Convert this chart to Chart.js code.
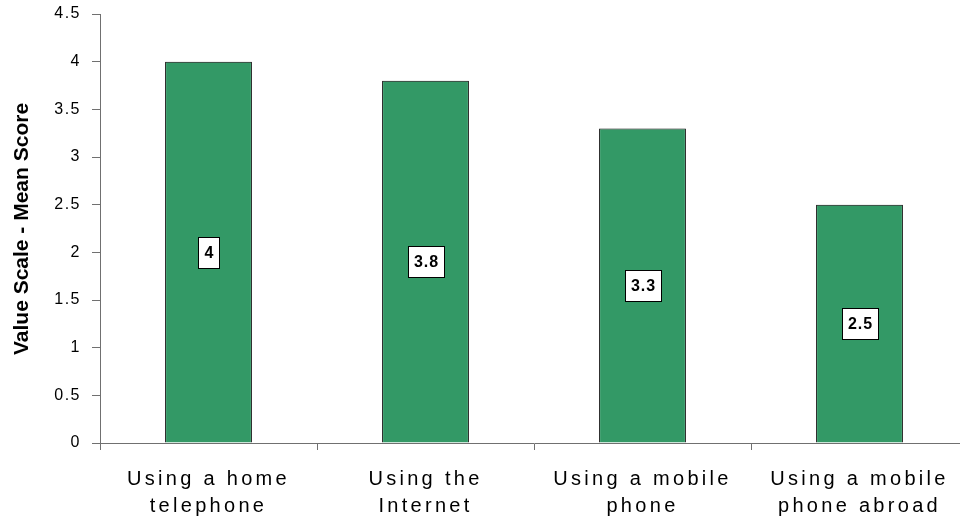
<!DOCTYPE html>
<html>
<head>
<meta charset="utf-8">
<script src="https://cdn.jsdelivr.net/npm/chart.js@4.4.1/dist/chart.umd.min.js"></script>
<style>
html,body{margin:0;padding:0;background:#fff;overflow:hidden;}
#wrap{position:absolute;left:0;top:0;width:968px;height:524px;}
</style>
</head>
<body>
<div id="wrap"><canvas id="c"></canvas></div>
<script>
const categories = [
  ["Using a home", "telephone"],
  ["Using the", "Internet"],
  ["Using a mobile", "phone"],
  ["Using a mobile", "phone abroad"]
];
const meanScores = [4, 3.8, 3.3, 2.5];
const yTitle = "Value Scale - Mean Score";
const yMin = 0, yMax = 4.5, yStep = 0.5;

const FONT = "'Liberation Sans', Arial, sans-serif";

const labelBoxes = {
  id: 'labelBoxes',
  afterDatasetsDraw(chart) {
    const ctx = chart.ctx;
    const ys = chart.scales.y;
    const meta = chart.getDatasetMeta(0);
    ctx.save();
    ctx.letterSpacing = '1px';
    ctx.font = "bold 16px " + FONT;
    ctx.textAlign = 'center';
    ctx.textBaseline = 'middle';
    meta.data.forEach((bar, i) => {
      const v = chart.data.datasets[0].data[i];
      const txt = String(v);
      const cx = bar.x;
      const cy = ys.getPixelForValue(v / 2);
      const w = Math.round(ctx.measureText(txt).width + 11);
      const h = 31;
      const x0 = Math.round(cx - w / 2) + 0.5;
      const y0 = Math.round(cy - h / 2) + 0.5;
      ctx.fillStyle = '#fff';
      ctx.fillRect(x0, y0, w, h);
      ctx.strokeStyle = '#000';
      ctx.lineWidth = 1;
      ctx.strokeRect(x0, y0, w, h);
      ctx.fillStyle = '#000';
      ctx.fillText(txt, cx + 1, cy + 1);
    });
    ctx.restore();
    // spacing for x-axis labels, which are drawn after the datasets (ticks.z = 1)
    ctx.letterSpacing = '3.3px';
  }
};

const yTitlePlugin = {
  id: 'yTitlePlugin',
  afterDraw(chart) {
    const ctx = chart.ctx;
    ctx.save();
    ctx.letterSpacing = '0px';
    ctx.font = "bold 21px " + FONT;
    ctx.fillStyle = '#000';
    ctx.textAlign = 'center';
    ctx.textBaseline = 'alphabetic';
    ctx.translate(28, 229);
    ctx.rotate(-Math.PI / 2);
    ctx.fillText(yTitle, 0, 0);
    ctx.restore();
  }
};

const spacing = {
  id: 'spacing',
  beforeDraw(chart) { chart.ctx.letterSpacing = '1.5px'; }
};

const chart = new Chart(document.getElementById('c'), {
  type: 'bar',
  data: {
    labels: categories,
    datasets: [{
      data: meanScores,
      backgroundColor: '#339966',
      borderColor: '#000',
      borderWidth: 1,
      borderSkipped: 'bottom',
      barPercentage: 0.4,
      categoryPercentage: 1.0
    }]
  },
  options: {
    responsive: true,
    maintainAspectRatio: false,
    animation: false,
    events: [],
    layout: { padding: { top: 14, right: 0, left: 0, bottom: 0 } },
    plugins: { legend: { display: false }, tooltip: { enabled: false } },
    scales: {
      x: {
        grid: { display: true, drawOnChartArea: false, offset: true, tickLength: 7, color: '#707070' },
        border: { display: true, color: '#707070', width: 1 },
        ticks: {
          z: 1,
          color: '#000',
          font: { family: FONT, size: 20, lineHeight: 1.35 },
          padding: 16,
          maxRotation: 0,
          autoSkip: false
        },
        afterFit(s) { s.height = 81; s.paddingLeft = 0; s.paddingRight = 0; }
      },
      y: {
        min: yMin, max: yMax,
        grid: { display: true, drawOnChartArea: false, tickLength: 8, color: '#707070' },
        border: { display: true, color: '#707070', width: 1 },
        ticks: {
          stepSize: yStep,
          color: '#000',
          font: { family: FONT, size: 16 },
          padding: 11,
          callback: (v) => String(v)
        },
        afterFit(s) { s.width = 100; s.paddingTop = 0; s.paddingBottom = 0; }
      }
    }
  },
  plugins: [spacing, labelBoxes, yTitlePlugin]
});
</script>
</body>
</html>
